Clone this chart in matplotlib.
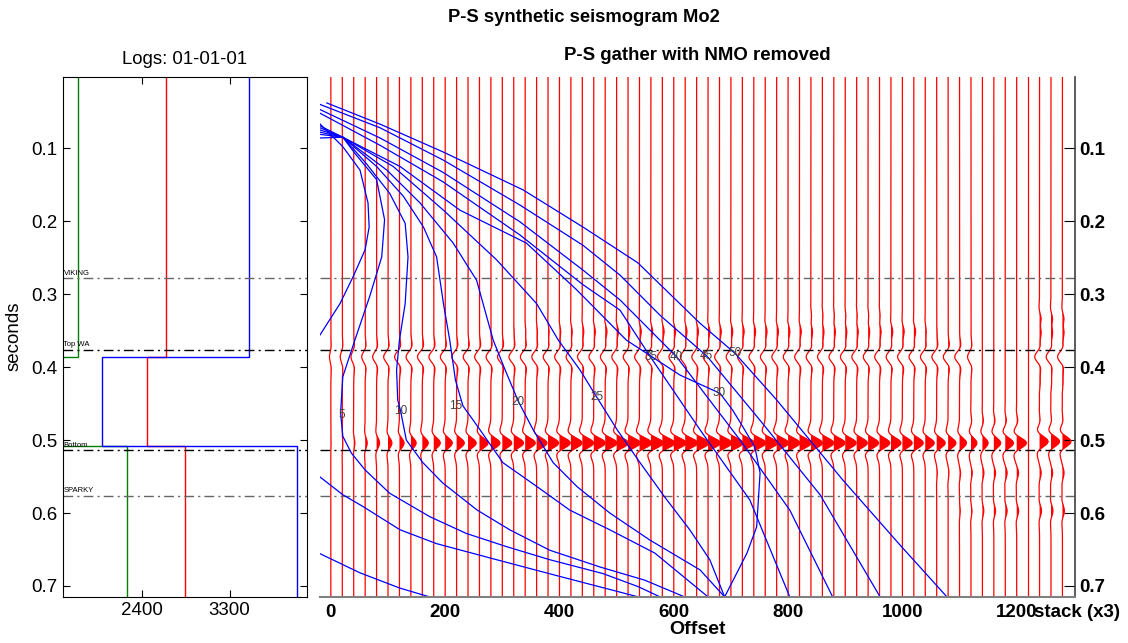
import numpy as np
import matplotlib.pyplot as plt

plt.rcParams['font.family'] = ['Liberation Sans', 'DejaVu Sans']

# ── log panel ────────────────────────────────────────────────
LAYER_T   = [0.0, 0.3865, 0.5077, 0.72]
LOG_BLUE  = [3495, 1990, 3994]
LOG_RED   = [2646, 2451, 2841]
LOG_GREEN = [1747, 1500, 2246]

TOP_NAMES = ['VIKING', 'Top WA', 'Bottom', 'SPARKY']
TOP_T     = [0.2782, 0.3765, 0.514, 0.5766]
TOP_SHADE = ['0.4', 'k', 'k', '0.4']

# ── gather: trace offsets and event amplitudes (trace-spacing units) ──
OFFSETS = np.arange(0, 1201, 20)
BLANK_OFFSET = 1220
STACK_OFFSETS = [1240, 1260, 1280]

MAIN_T = 0.504
MAIN_AMP = [0.02, 0.05, 0.10, 0.18, 0.26, 0.34, 0.40, 0.46, 0.52, 0.57,
            0.62, 0.67, 0.71, 0.75, 0.79, 0.82, 0.85, 0.88, 0.90, 0.92,
            0.94, 0.96, 0.98, 1.00, 1.02, 1.04, 1.05, 1.06, 1.07, 1.08,
            1.08, 1.08, 1.08, 1.07, 1.07, 1.06, 1.06, 1.05, 1.05, 1.04,
            1.02, 1.01, 1.00, 0.99, 0.97, 0.95, 0.93, 0.91, 0.89, 0.87,
            0.85, 0.82, 0.78, 0.74, 0.68, 0.60, 0.52, 0.50, 0.60, 0.72,
            0.85]

TOPWA_T = 0.386
TOPWA_AMP = ([-0.12, -0.18, -0.24, -0.30, -0.34, -0.38] + [-0.42] * 50
             + [-0.30, 0, 0, 0, 0])

SHALLOW_T = 0.351
SHALLOW_AMP = ([0.0] * 16 + [0.03, 0.05, 0.07, 0.09, 0.10, 0.11, 0.12, 0.13]
               + [0.15] * 28 + [0.08, 0.03] + [0.0] * 7)

UPPER_T = 0.331
UPPER_AMP = [0.0] * 42 + [0.08] * 7 + [0.0] * 12

FAR_T = [0.475, 0.545, 0.597]
FAR_AMP = [
    [0.0] * 56 + [0.08, 0.10, 0.12, 0.12, 0.12],
    [0.0] * 53 + [0.05, 0.07, 0.09, 0.11, 0.13, 0.15, 0.16, 0.16],
    [0.0] * 55 + [0.06, 0.09, 0.12, 0.15, 0.16, 0.17],
]

STACK_T   = [0.334, 0.352, 0.386, 0.420, 0.475, 0.502, 0.545, 0.597]
STACK_AMP = [0.18, 0.18, -0.42, 0.06, 0.08, 0.75, 0.14, 0.17]

# ── incidence-angle contours (offset, seconds) ──────────────
CURVES = {
    '': ([-20, 21, 51, 65, 67, 60, 39, 16, -19],
         [0.066, 0.098, 0.130, 0.175, 0.208, 0.239, 0.276, 0.313, 0.356]),
    'a2': ([-20, 21, 56, 121, 185, 290, 401, 538],
           [0.550, 0.575, 0.591, 0.623, 0.642, 0.664, 0.687, 0.715]),
    'a3': ([-21, 51, 121, 173],
           [0.655, 0.682, 0.703, 0.715]),
    '5': ([-20, 21, 42, 80, 94, 89, 68, 42, 21, 17, 21, 36, 60, 103, 173,
           237, 307, 383, 476, 538, 576],
          [0.069, 0.085, 0.107, 0.143, 0.198, 0.249, 0.303, 0.363, 0.413,
           0.463, 0.495, 0.518, 0.541, 0.573, 0.605, 0.628, 0.646, 0.664,
           0.683, 0.701, 0.715]),
    '10': ([-19, 21, 62, 103, 130, 135, 130, 120, 115, 117, 122, 132, 161,
            196, 256, 313, 383, 471, 549, 619],
           [0.072, 0.085, 0.121, 0.162, 0.203, 0.249, 0.313, 0.363, 0.404,
            0.445, 0.460, 0.500, 0.531, 0.559, 0.596, 0.623, 0.651, 0.674,
            0.692, 0.715]),
    '15': ([-19, 21, 80, 127, 162, 185, 197, 208, 218, 231, 261, 301, 361,
            418, 488, 567, 660],
           [0.075, 0.085, 0.125, 0.166, 0.208, 0.249, 0.313, 0.363, 0.418,
            0.453, 0.486, 0.531, 0.564, 0.596, 0.623, 0.655, 0.715]),
    '20': ([-19, 21, 98, 156, 214, 255, 284, 305, 328, 354, 389, 431, 488,
            558, 646, 689],
           [0.078, 0.085, 0.130, 0.175, 0.230, 0.281, 0.363, 0.404, 0.447,
            0.486, 0.531, 0.564, 0.600, 0.637, 0.678, 0.715]),
    '25': ([-19, 21, 109, 197, 290, 360, 398, 436, 465, 501, 541, 584, 628,
            663, 689],
           [0.081, 0.085, 0.125, 0.185, 0.253, 0.313, 0.363, 0.404, 0.441,
            0.486, 0.531, 0.578, 0.623, 0.664, 0.715]),
    '30': ([-19, 21, 121, 226, 342, 430, 517, 611, 681, 703, 721, 742, 751,
            745, 728, 689],
           [0.086, 0.085, 0.125, 0.185, 0.230, 0.294, 0.363, 0.411, 0.436,
            0.459, 0.482, 0.510, 0.545, 0.619, 0.655, 0.715]),
    '35': ([-19, 86, 196, 331, 441, 506, 560, 646, 733, 803],
           [0.052, 0.096, 0.146, 0.219, 0.287, 0.322, 0.387, 0.486, 0.582,
            0.715]),
    '40': ([-19, 86, 196, 331, 441, 506, 605, 716, 803, 878],
           [0.047, 0.086, 0.133, 0.201, 0.267, 0.308, 0.386, 0.500, 0.596,
            0.715]),
    '45': ([-19, 86, 196, 331, 441, 506, 576, 658, 751, 856, 961],
           [0.040, 0.072, 0.116, 0.178, 0.233, 0.274, 0.329, 0.385, 0.473,
            0.575, 0.715]),
    '50': ([-7, 86, 196, 336, 441, 537, 646, 707, 780, 896, 996, 1078],
           [0.038, 0.067, 0.105, 0.157, 0.208, 0.257, 0.340, 0.381, 0.445,
            0.555, 0.644, 0.715]),
}
CURVE_LABEL_POS = {
    '5': (19, 0.4656), '10': (122, 0.460), '15': (218, 0.4528),
    '20': (328, 0.4473), '25': (465, 0.4413), '30': (680, 0.436),
    '35': (560, 0.3866), '40': (605, 0.3857), '45': (657, 0.3847),
    '50': (707, 0.381),
}

T_LIM = (0.7147, 0.002)
TRACE_GAIN = 20.0
t = np.arange(0.0, 0.72, 0.0005)


def wavelet(t0, f=24.0, k=0.7):
    # zero-phase pulse with softened side lobes
    a = (np.pi * f * (t - t0)) ** 2
    return (1 - 2 * k * a) * np.exp(-a)


def draw_trace(ax, x0, times, amps):
    tr = np.zeros_like(t)
    for t0, a in zip(times, amps):
        if a:
            tr += a * wavelet(t0)
    xs = x0 + TRACE_GAIN * tr
    ax.fill_betweenx(t, x0, xs, where=tr > 0, color='red', lw=0,
                     interpolate=True)
    ax.plot(xs, t, color='red', lw=0.9)


def dashdot(ax, y, c):
    ax.axhline(y, color=c, lw=1.0, ls=(0, (7, 3, 1.5, 3)))


fig = plt.figure(figsize=(11.28, 6.43), dpi=100)
bottom = 1 - 596.7 / 643
height = 520 / 643

# ── Logs ─────────────────────────────────────────────────────
ax1 = fig.add_axes([63 / 1128, bottom, 244 / 1128, height])
ax1.stairs(LOG_GREEN, LAYER_T, orientation='horizontal', baseline=None,
           color='green', lw=1.0)
ax1.stairs(LOG_RED, LAYER_T, orientation='horizontal', baseline=None,
           color='red', lw=1.0)
ax1.stairs(LOG_BLUE, LAYER_T, orientation='horizontal', baseline=None,
           color='blue', lw=1.0)
for name, ty, c in zip(TOP_NAMES, TOP_T, TOP_SHADE):
    dashdot(ax1, ty, c)
    ax1.text(1595, ty - 0.002, name, fontsize=5.5, ha='left', va='bottom')
ax1.set_xlim(1590, 4093)
ax1.set_ylim(*T_LIM)
ax1.set_xticks([2400, 3300])
ax1.set_yticks([0.1, 0.2, 0.3, 0.4, 0.5, 0.6, 0.7])
ax1.set_yticklabels(['0.1', '0.2', '0.3', '0.4', '0.5', '0.6', '0.7'])
ax1.tick_params(direction='in', top=True, right=True, length=5,
                labelsize=13.5, pad=4)
ax1.set_title('Logs: 01-01-01', fontsize=13.4, pad=9)
ax1.set_ylabel('seconds', fontsize=13.5)
ax1.yaxis.set_label_coords(-0.165, 0.5)

# ── Gather ───────────────────────────────────────────────────
ax2 = fig.add_axes([320 / 1128, bottom, 755 / 1128, height])
for i, x0 in enumerate(OFFSETS):
    times = [MAIN_T, TOPWA_T, SHALLOW_T, UPPER_T] + FAR_T
    amps = [MAIN_AMP[i], TOPWA_AMP[i], SHALLOW_AMP[i], UPPER_AMP[i]] + \
           [a[i] for a in FAR_AMP]
    draw_trace(ax2, x0, times, amps)
ax2.axvline(BLANK_OFFSET, color='red', lw=0.9)
for x0 in STACK_OFFSETS:
    draw_trace(ax2, x0, STACK_T, STACK_AMP)

for name, ty, c in zip(TOP_NAMES, TOP_T, TOP_SHADE):
    dashdot(ax2, ty, c)

for key, (xs, ts) in CURVES.items():
    ax2.plot(xs, ts, color='blue', lw=0.9)
for key, (lx, lt) in CURVE_LABEL_POS.items():
    ax2.text(lx, lt, key, fontsize=8.5, color='0.25', ha='center',
             va='center')

ax2.set_xlim(-19, 1302)
ax2.set_ylim(*T_LIM)
ax2.yaxis.tick_right()
ax2.set_yticks([0.1, 0.2, 0.3, 0.4, 0.5, 0.6, 0.7])
ax2.set_yticklabels(['0.1', '0.2', '0.3', '0.4', '0.5', '0.6', '0.7'],
                    fontweight='bold')
ax2.set_xticks([0, 200, 400, 600, 800, 1000, 1200, 1231])
xlabels = ax2.set_xticklabels(['0', '200', '400', '600', '800', '1000',
                               '1200', 'stack (x3)'], fontweight='bold')
xlabels[-1].set_horizontalalignment('left')
ax2.tick_params(axis='y', direction='in', length=8, labelsize=13.5, pad=3)
ax2.tick_params(axis='x', length=0, labelsize=13.5, pad=5)
for s in ('left', 'top'):
    ax2.spines[s].set_visible(False)
ax2.spines['bottom'].set_color('0.5')
ax2.spines['bottom'].set_linewidth(1.5)
ax2.spines['right'].set_color('0.25')
ax2.spines['right'].set_linewidth(1.2)
ax2.set_xlabel('Offset', fontsize=14, fontweight='bold', labelpad=0)
ax2.set_title('P-S gather with NMO removed', fontsize=13.4, fontweight='bold',
              pad=12)

fig.text(584 / 1128, 1 - 18 / 643, 'P-S synthetic seismogram Mo2',
         ha='center', va='center', fontsize=13.2, fontweight='bold')

fig.savefig('out.png', dpi=100)
